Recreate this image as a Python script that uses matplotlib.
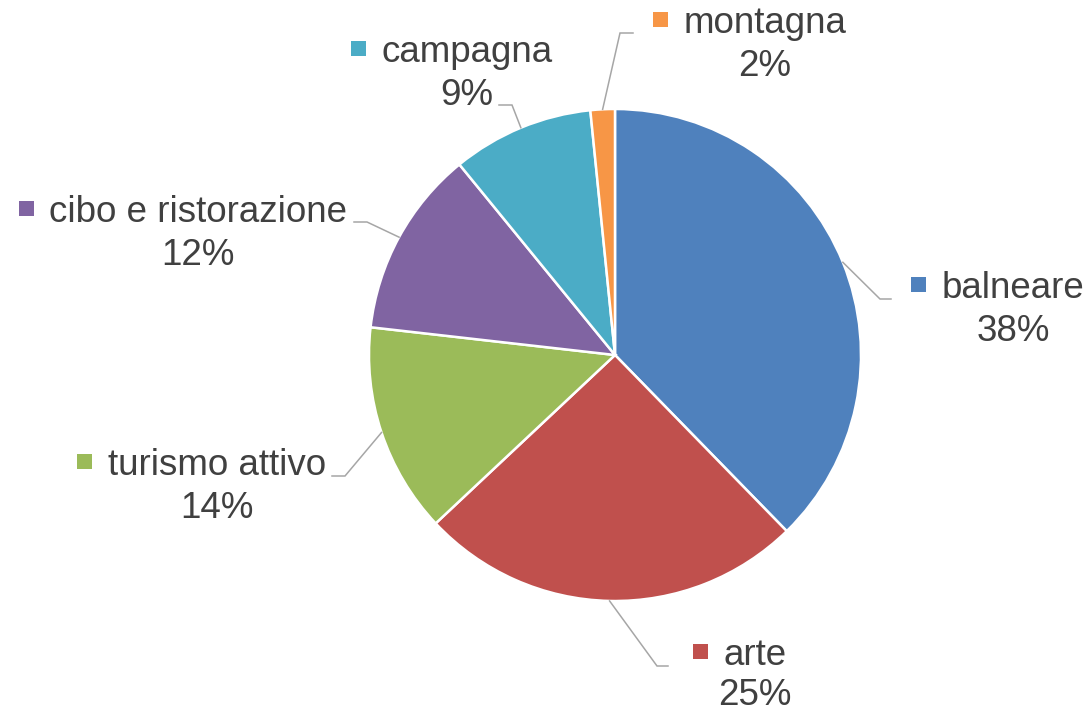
import matplotlib
matplotlib.use("Agg")
import matplotlib.pyplot as plt
import numpy as np

# ---- data ----
categories = ["balneare", "arte", "turismo attivo", "cibo e ristorazione", "campagna", "montagna"]
values = [37.7, 25.3, 13.8, 12.3, 9.3, 1.6]
colors = ["#4F81BD", "#C0504D", "#9BBB59", "#8064A2", "#4BACC6", "#F79646"]

# ---- layout (pixel coordinates from top-left) ----
W, H = 1090, 714
CX, CY, R = 615, 355, 246
# name centre x, name baseline y, elbow x, elbow y, end x, line gap
label_layout = [
    (1013, 298, 880, 299, 891, 43),
    (755, 665, 657, 666, 668, 40),
    (217, 475, 345, 476, 332, 43),
    (198, 222, 367, 222, 354, 43),
    (467, 62, 512, 105, 499, 43),
    (765, 33, 620, 33, 633, 43),
]

plt.rcParams['font.family'] = ['Liberation Sans', 'DejaVu Sans']
TXT = "#404040"
FS = 26.5

fig = plt.figure(figsize=(W / 100, H / 100), dpi=100)
ax = fig.add_axes([0, 0, 1, 1])

def Y(y):
    return H - y

wedges, _ = ax.pie(values, colors=colors, startangle=90, counterclock=False,
                   center=(CX, Y(CY)), radius=R,
                   wedgeprops=dict(edgecolor="white", linewidth=1.8))

ax.set_xlim(0, W)
ax.set_ylim(0, H)
ax.set_aspect("equal")
ax.axis("off")

fig.canvas.draw()
renderer = fig.canvas.get_renderer()

for w, cat, val, col, (nx, nby, ex, ey, endx, gap) in zip(wedges, categories, values, colors, label_layout):
    mid = np.deg2rad((w.theta1 + w.theta2) / 2)
    sx = CX + R * np.cos(mid)
    sy = Y(CY) + R * np.sin(mid)
    ax.plot([sx, ex, endx], [sy, Y(ey), Y(ey)], color="#A6A6A6", lw=1.1,
            solid_joinstyle="miter", zorder=1)
    t = ax.text(nx, Y(nby), cat, ha="center", va="baseline", fontsize=FS, color=TXT)
    ax.text(nx, Y(nby + gap), f"{val:.0f}%", ha="center", va="baseline",
            fontsize=FS, color=TXT)
    bb = t.get_window_extent(renderer)
    left = bb.x0
    ax.plot([left - 23.5], [Y(nby - 14)], marker="s", markersize=10.8,
            color=col, markeredgewidth=0, linestyle="none")

fig.savefig("out.png", dpi=100)
